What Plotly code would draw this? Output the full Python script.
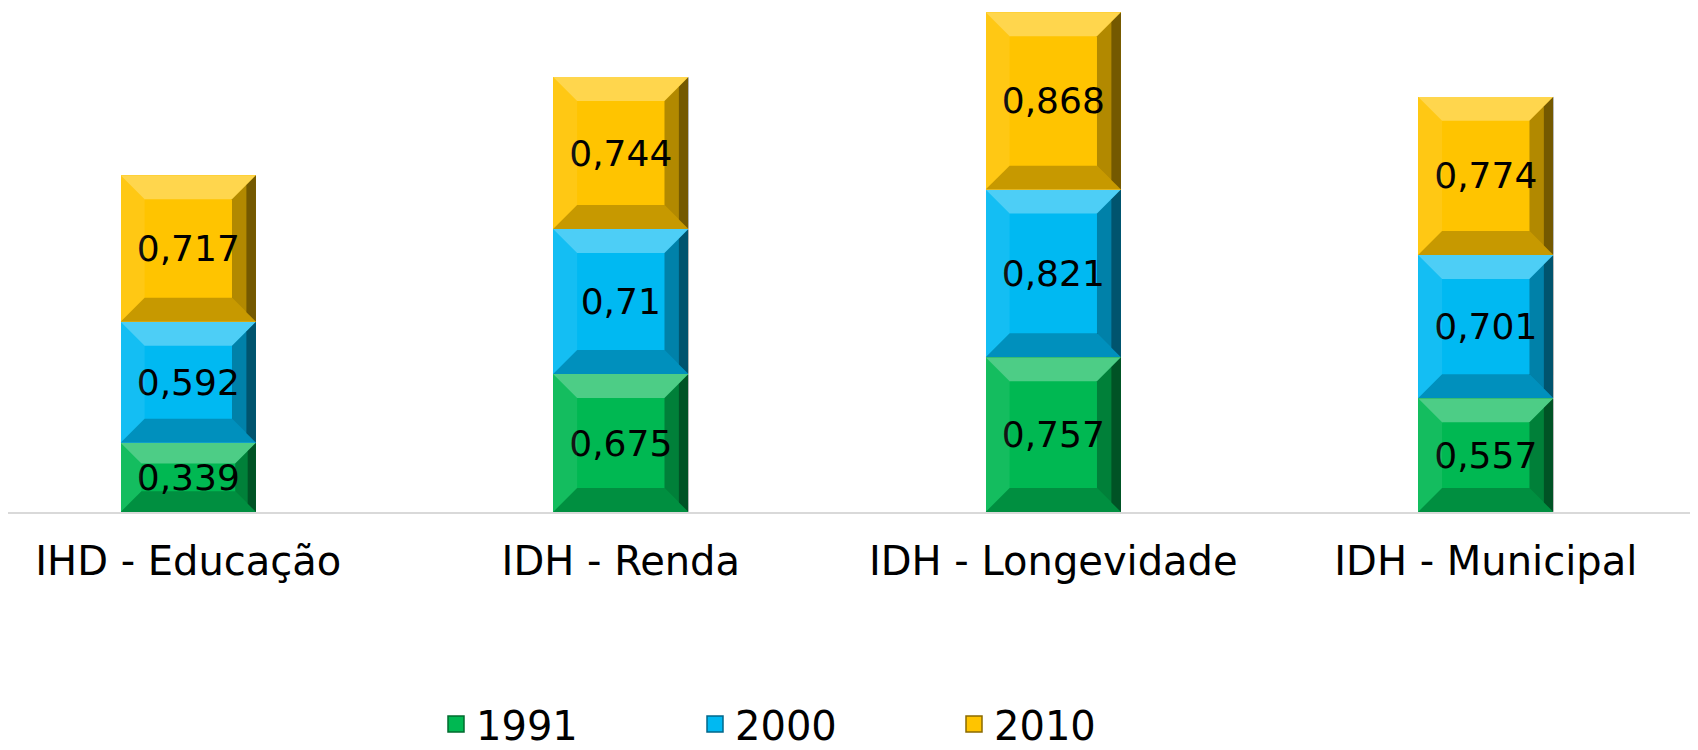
import plotly.graph_objects as go

categories = ["IHD - Educação", "IDH - Renda", "IDH - Longevidade", "IDH - Municipal"]
years = ["1991", "2000", "2010"]
v1991 = [0.339, 0.675, 0.757, 0.557]
v2000 = [0.592, 0.71, 0.821, 0.701]
v2010 = [0.717, 0.744, 0.868, 0.774]
series = [v1991, v2000, v2010]
colors = ["#00B852", "#00B9F2", "#FFC400"]
edge_colors = ["#006B2E", "#00678A", "#8A6A00"]

# the page body adds an 8px margin, so the figure is sized to fit the window
W, H = 1682, 742
ML, MR, MT, MB = 0, 0, 0, 237.5
XR = [-0.4169, 3.4722]
YR = [0, 2.467]
BAR_W = 0.313
FONT = "DejaVu Sans"

fig = go.Figure()
for name, vals, col in zip(years, series, colors):
    fig.add_trace(go.Bar(
        x=categories, y=vals, name=name, showlegend=False,
        marker=dict(color=col, line=dict(width=0)),
        width=BAR_W,
        texttemplate="%{y}", textposition="inside",
        insidetextanchor="middle", textangle=0,
        constraintext="none",
        textfont=dict(size=36, color="black", family=FONT),
    ))
# legend entries (square swatches)
for name, col, ec in zip(years, colors, edge_colors):
    fig.add_trace(go.Scatter(
        x=[None], y=[None], name=name, mode="markers",
        marker=dict(symbol="square", size=22, color=col, line=dict(color=ec, width=1.5)),
    ))

# bevel decoration computed from the data values
px_x = (W - ML - MR) / (XR[1] - XR[0])
px_y = (H - MT - MB) / (YR[1] - YR[0])
shapes = []
for i in range(len(categories)):
    base = 0.0
    for vals in series:
        y0, y1 = base, base + vals[i]
        seg_px = vals[i] * px_y
        t = min(24, seg_px * 0.3)
        bx = t / px_x
        by = t / px_y
        x0, x1 = i - BAR_W / 2, i + BAR_W / 2
        faces = [
            ([(x0, y1), (x1, y1), (x1 - bx, y1 - by), (x0 + bx, y1 - by)], "rgba(255,255,255,0.30)"),
            ([(x0, y0), (x0, y1), (x0 + bx, y1 - by), (x0 + bx, y0 + by)], "rgba(255,255,255,0.08)"),
            ([(x1, y0), (x1, y1), (x1 - bx, y1 - by), (x1 - bx, y0 + by)], "rgba(0,0,0,0.30)"),
            ([(x1, y0), (x1, y1), (x1 - bx / 2.5, y1 - by / 2.5), (x1 - bx / 2.5, y0 + by / 2.5)], "rgba(0,0,0,0.35)"),
            ([(x0, y0), (x1, y0), (x1 - bx, y0 + by), (x0 + bx, y0 + by)], "rgba(0,0,0,0.22)"),
        ]
        for pts, fc in faces:
            path = "M " + " L ".join(f"{px},{py}" for px, py in pts) + " Z"
            shapes.append(dict(type="path", path=path, xref="x", yref="y",
                               fillcolor=fc, line=dict(width=0), layer="above"))
        base = y1

fig.update_layout(
    width=W, height=H,
    margin=dict(l=ML, r=MR, t=MT, b=MB, autoexpand=False),
    barmode="stack",
    separators=",.",
    paper_bgcolor="white", plot_bgcolor="white",
    font=dict(family=FONT, color="black"),
    shapes=shapes,
    xaxis=dict(range=XR, showgrid=False, showline=True, linecolor="#D9D9D9", linewidth=2,
               ticks="", tickfont=dict(size=40, color="black", family=FONT),
               ticklabelstandoff=13, automargin=False, fixedrange=True),
    yaxis=dict(range=YR, visible=False, automargin=False, fixedrange=True),
    legend=dict(orientation="h", xref="container", yref="container",
                x=428 / W, xanchor="left", y=26 / H, yanchor="middle",
                font=dict(size=40, color="black", family=FONT),
                entrywidth=214, itemsizing="trace", traceorder="normal",
                bgcolor="rgba(0,0,0,0)"),
    showlegend=True,
)
fig.write_html("out.html")
